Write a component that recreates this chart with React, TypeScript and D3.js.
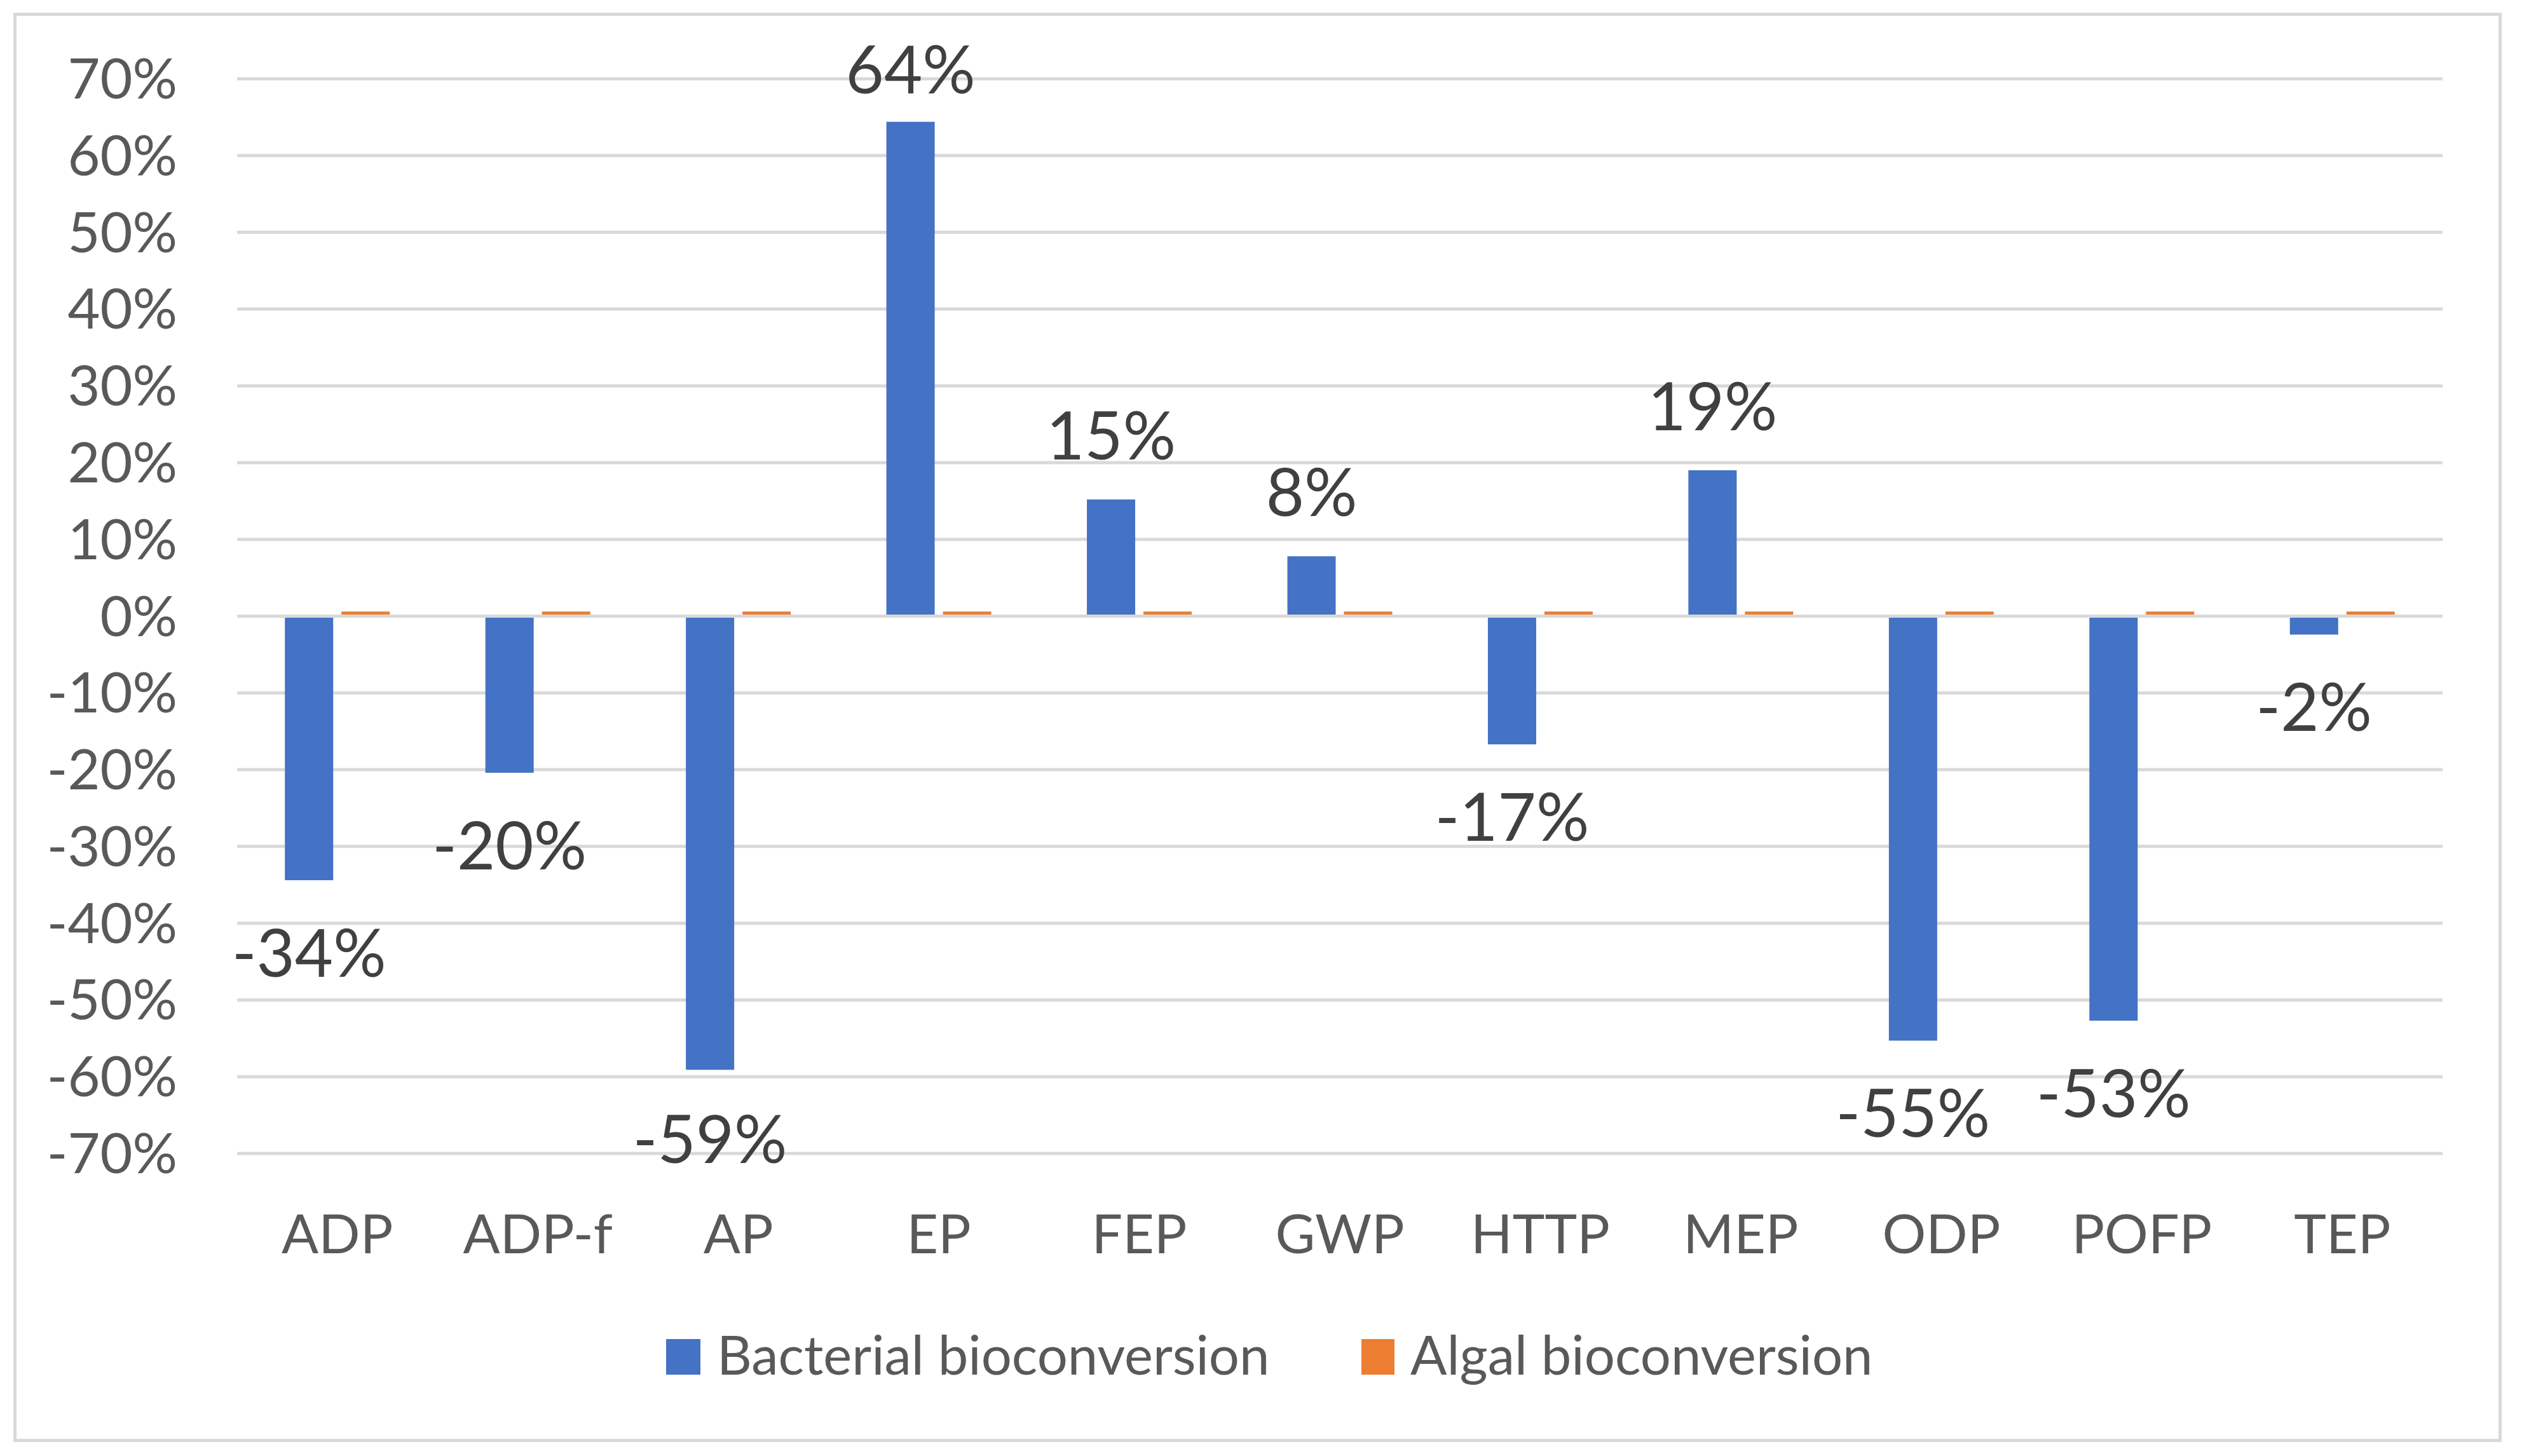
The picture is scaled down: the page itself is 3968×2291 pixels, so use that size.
import React from "react";
import * as d3 from "d3";

const categories = ["ADP", "ADP-f", "AP", "EP", "FEP", "GWP", "HTTP", "MEP", "ODP", "POFP", "TEP"];
const seriesNames = ["Bacterial bioconversion", "Algal bioconversion"];
const bacterial = [-0.344, -0.204, -0.591, 0.644, 0.152, 0.078, -0.167, 0.19, -0.553, -0.527, -0.024];
const algal = [0.006, 0.006, 0.006, 0.006, 0.006, 0.006, 0.006, 0.006, 0.006, 0.006, 0.006];
const yTicks = [0.7, 0.6, 0.5, 0.4, 0.3, 0.2, 0.1, 0, -0.1, -0.2, -0.3, -0.4, -0.5, -0.6, -0.7];
const colors = ["#4472C4", "#ED7D31"];

const W = 3968;
const H = 2291;
const FONT = "Lato, 'Open Sans', sans-serif";

export default function App() {
  const plotLeft = 373;
  const plotRight = 3843;
  const y = d3.scaleLinear().domain([-0.7, 0.7]).range([1815, 124]);
  const x = d3.scaleBand<string>().domain(categories).range([plotLeft, plotRight]).paddingInner(0).paddingOuter(0);
  const bw = x.bandwidth();
  const inner = d3.scaleBand<string>().domain(seriesNames).range([-82.5, 82.5]).paddingInner(0.146).paddingOuter(0);
  const fmt = (v: number) => `${Math.round(v * 100)}%`;
  const data = [bacterial, algal];

  return (
    <svg
      width={W}
      height={H}
      style={{ position: "absolute", left: 0, top: 0, background: "#fff" }}
      fontFamily={FONT}
    >
      <rect x={0} y={0} width={W} height={H} fill="#ffffff" />
      <rect x={23.5} y={22.5} width={3910} height={2244} fill="none" stroke="#D9D9D9" strokeWidth={5} />

      {yTicks.filter((t) => t !== 0).map((t) => (
        <line key={t} x1={plotLeft} x2={plotRight} y1={y(t)} y2={y(t)} stroke="#D9D9D9" strokeWidth={5} />
      ))}

      {yTicks.map((t) => (
        <text key={"l" + t} x={279} y={y(t) + 31} textAnchor="end" fontSize={88} fill="#595959">
          {fmt(t)}
        </text>
      ))}

      {data.map((vals, si) =>
        categories.map((c, i) => {
          const v = vals[i];
          const cx = (x(c) as number) + bw / 2 + (inner(seriesNames[si]) as number);
          const y0 = y(0);
          const y1 = y(v);
          return (
            <rect
              key={si + "-" + c}
              x={cx}
              y={Math.min(y0, y1)}
              width={inner.bandwidth()}
              height={Math.abs(y1 - y0)}
              fill={colors[si]}
            />
          );
        })
      )}

      <line x1={plotLeft} x2={plotRight} y1={y(0)} y2={y(0)} stroke="#D9D9D9" strokeWidth={5} />

      {categories.map((c, i) => {
        const v = bacterial[i];
        const cx = (x(c) as number) + bw / 2 + (inner(seriesNames[0]) as number) + inner.bandwidth() / 2;
        const yy = v >= 0 ? Math.max(y(v) - 63, 147) : Math.min(y(v) + 152, 1830);
        return (
          <text key={"d" + c} x={cx} y={yy} textAnchor="middle" fontSize={104} fill="#404040">
            {fmt(v)}
          </text>
        );
      })}

      {categories.map((c) => (
        <text key={"c" + c} x={(x(c) as number) + bw / 2} y={1972} textAnchor="middle" fontSize={86} fill="#595959">
          {c}
        </text>
      ))}

      <rect x={1048} y={2107} width={54} height={56} fill={colors[0]} />
      <text x={1128} y={2163} fontSize={85} fill="#595959">{seriesNames[0]}</text>
      <rect x={2142} y={2107} width={52} height={56} fill={colors[1]} />
      <text x={2219} y={2163} fontSize={85} fill="#595959">{seriesNames[1]}</text>
    </svg>
  );
}
